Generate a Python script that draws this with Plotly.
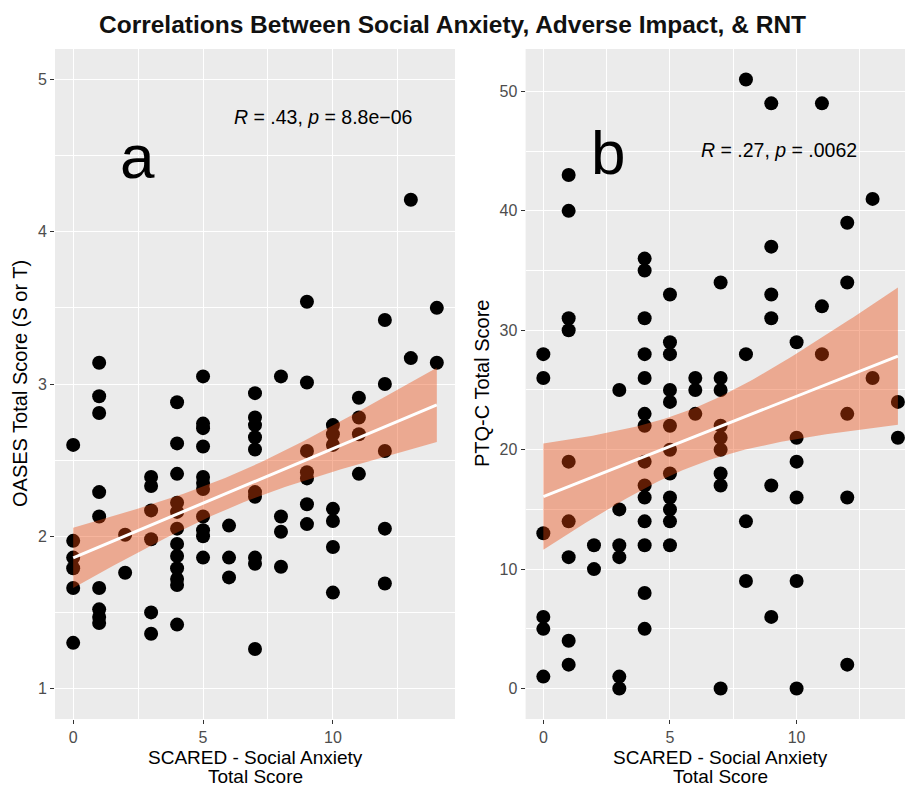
import numpy as np
import plotly.graph_objects as go

# ---------------- data ----------------
# Panel a: SCARED social anxiety (x) vs OASES total score (y)
scared_a = ([0]*6 + [1]*9 + [2]*2 + [3]*6 + [4]*12 + [5]*11 + [6]*3 + [7]*10 +
            [8]*4 + [9]*7 + [10]*7 + [11]*4 + [12]*5 + [13]*2 + [14]*2)
oases = [2.60, 1.97, 1.86, 1.79, 1.66, 1.30,
         3.14, 2.92, 2.81, 2.29, 2.13, 1.66, 1.52, 1.47, 1.43,
         2.01, 1.76,
         2.39, 2.33, 2.17, 1.98, 1.50, 1.36,
         2.88, 2.61, 2.41, 2.22, 2.16, 2.05, 1.95, 1.87, 1.79, 1.72, 1.68, 1.42,
         3.05, 2.74, 2.71, 2.59, 2.39, 2.35, 2.31, 2.13, 2.04, 2.00, 1.86,
         2.07, 1.86, 1.73,
         2.94, 2.78, 2.73, 2.65, 2.57, 2.29, 2.26, 1.86, 1.82, 1.26,
         3.05, 2.13, 2.03, 1.80,
         3.54, 3.01, 2.56, 2.42, 2.38, 2.21, 2.08,
         2.73, 2.67, 2.60, 2.18, 2.10, 1.93, 1.63,
         2.91, 2.78, 2.67, 2.41,
         3.42, 3.00, 2.56, 2.05, 1.69,
         4.21, 3.17,
         3.50, 3.14]

# Panel b: SCARED social anxiety (x) vs PTQ-C total score (y)
scared_b = ([0]*6 + [1]*9 + [2]*2 + [3]*6 + [4]*14 + [5]*12 + [6]*3 + [7]*9 +
            [8]*4 + [9]*6 + [10]*6 + [11]*3 + [12]*5 + [13]*2 + [14]*2)
ptqc = [28, 26, 13, 6, 5, 1,
        43, 40, 31, 30, 19, 14, 11, 4, 2,
        12, 10,
        25, 15, 12, 11, 1, 0,
        36, 35, 31, 28, 26, 23, 22, 19, 17, 16, 14, 12, 8, 5,
        33, 29, 28, 25, 24, 22, 20, 18, 16, 15, 14, 12,
        26, 25, 23,
        34, 26, 25, 22, 21, 20, 18, 17, 0,
        51, 28, 14, 9,
        49, 37, 33, 31, 17, 6,
        29, 21, 19, 16, 9, 0,
        49, 32, 28,
        39, 34, 23, 16, 2,
        41, 26,
        24, 21]

title_text = "Correlations Between Social Anxiety, Adverse Impact, & RNT"
stat_a = "<i>R</i> = .43, <i>p</i> = 8.8e\u221206"
stat_b = "<i>R</i> = .27, <i>p</i> = .0062"
xlab = ["SCARED - Social Anxiety", "Total Score"]
ylab_a = "OASES Total Score (S or T)"
ylab_b = "PTQ-C Total Score"

# ---------------- helpers ----------------
W, H = 905, 786
FONT = "Liberation Sans, Arial, Helvetica, sans-serif"


def lm_band(x, y, tcrit=1.99, n_pts=80):
    x = np.asarray(x, float)
    y = np.asarray(y, float)
    n = len(x)
    b1, b0 = np.polyfit(x, y, 1)
    xs = np.linspace(x.min(), x.max(), n_pts)
    yh = b0 + b1 * xs
    resid = y - (b0 + b1 * x)
    s = np.sqrt(np.sum(resid ** 2) / (n - 2))
    sxx = np.sum((x - x.mean()) ** 2)
    se = s * np.sqrt(1.0 / n + (xs - x.mean()) ** 2 / sxx)
    return xs, yh, yh - tcrit * se, yh + tcrit * se


fig = go.Figure()

for xv, yv, xa, ya in [(scared_a, oases, "x", "y"), (scared_b, ptqc, "x2", "y2")]:
    fig.add_trace(go.Scatter(x=xv, y=yv, mode="markers", xaxis=xa, yaxis=ya,
                             marker=dict(color="black", size=14, line=dict(width=0)),
                             showlegend=False, hoverinfo="skip"))
    xs, yh, lo, hi = lm_band(xv, yv)
    fig.add_trace(go.Scatter(x=np.concatenate([xs, xs[::-1]]),
                             y=np.concatenate([hi, lo[::-1]]),
                             mode="lines", fill="toself", xaxis=xa, yaxis=ya,
                             fillcolor="rgba(236,70,10,0.4)", line=dict(width=0),
                             showlegend=False, hoverinfo="skip"))
    fig.add_trace(go.Scatter(x=xs, y=yh, mode="lines", xaxis=xa, yaxis=ya,
                             line=dict(color="white", width=3),
                             showlegend=False, hoverinfo="skip"))


def px_x(p):
    return p / W


def px_y(p):
    return 1 - p / H


axis_common = dict(showgrid=True, gridcolor="white", gridwidth=1.2,
                   zeroline=False, showline=False, ticks="outside", ticklen=4,
                   tickwidth=1.1, tickcolor="#333333",
                   tickfont=dict(family=FONT, size=16, color="#4D4D4D"))

ydom = [px_y(719), px_y(49)]

fig.update_layout(
    width=W, height=H,
    margin=dict(l=0, r=0, t=0, b=0),
    paper_bgcolor="white", plot_bgcolor="#EBEBEB",
    font=dict(family=FONT),
    xaxis=dict(domain=[px_x(55), px_x(455)], range=[-0.7, 14.7], anchor="y",
               tickvals=[0, 5, 10],
               minor=dict(tickvals=[2.5, 7.5, 12.5], showgrid=True,
                          gridcolor="white", gridwidth=0.6),
               **axis_common),
    yaxis=dict(domain=ydom, range=[0.8, 5.2], anchor="x",
               tickvals=[1, 2, 3, 4, 5],
               minor=dict(tickvals=[1.5, 2.5, 3.5, 4.5], showgrid=True,
                          gridcolor="white", gridwidth=0.6),
               **axis_common),
    xaxis2=dict(domain=[px_x(525.6), 1.0], range=[-0.7, 14.28], anchor="y2",
                tickvals=[0, 5, 10],
                minor=dict(tickvals=[2.5, 7.5, 12.5], showgrid=True,
                           gridcolor="white", gridwidth=0.6),
                **axis_common),
    yaxis2=dict(domain=ydom, range=[-2.55, 53.55], anchor="x2",
                tickvals=[0, 10, 20, 30, 40, 50],
                minor=dict(tickvals=[5, 15, 25, 35, 45], showgrid=True,
                           gridcolor="white", gridwidth=0.6),
                **axis_common),
)

ann = []
ann.append(dict(text="<b>" + title_text + "</b>", x=px_x(452), y=px_y(24),
                xref="paper", yref="paper", showarrow=False,
                font=dict(size=24.5, color="#111111", family=FONT),
                xanchor="center", yanchor="middle"))
# stats
ann.append(dict(text=stat_a, x=px_x(322.5), y=px_y(117), xref="paper", yref="paper",
                showarrow=False, font=dict(size=19.5, color="black", family=FONT),
                xanchor="center", yanchor="middle"))
ann.append(dict(text=stat_b, x=px_x(779), y=px_y(150), xref="paper", yref="paper",
                showarrow=False, font=dict(size=19.5, color="black", family=FONT),
                xanchor="center", yanchor="middle"))
# panel letters
ann.append(dict(text="a", x=px_x(137.5), y=px_y(157), xref="paper", yref="paper",
                showarrow=False, font=dict(size=62, color="black", family=FONT),
                xanchor="center", yanchor="middle"))
ann.append(dict(text="b", x=px_x(607.5), y=px_y(153), xref="paper", yref="paper",
                showarrow=False, font=dict(size=62, color="black", family=FONT),
                xanchor="center", yanchor="middle"))
# axis titles (two lines, tight line spacing as in the reference)
for cx in (255, 720.8):
    for txt, cy in zip(xlab, (757, 776)):
        ann.append(dict(text=txt, x=px_x(cx), y=px_y(cy), xref="paper", yref="paper",
                        showarrow=False, height=19, borderpad=0,
                        font=dict(size=19, color="black", family=FONT),
                        xanchor="center", yanchor="middle"))
ann.append(dict(text=ylab_a, x=px_x(20), y=px_y(384), xref="paper", yref="paper",
                showarrow=False, textangle=-90,
                font=dict(size=20, color="black", family=FONT),
                xanchor="center", yanchor="middle"))
ann.append(dict(text=ylab_b, x=px_x(482), y=px_y(384), xref="paper", yref="paper",
                showarrow=False, textangle=-90,
                font=dict(size=20, color="black", family=FONT),
                xanchor="center", yanchor="middle"))
fig.update_layout(annotations=ann)

fig.write_html("out.html")
